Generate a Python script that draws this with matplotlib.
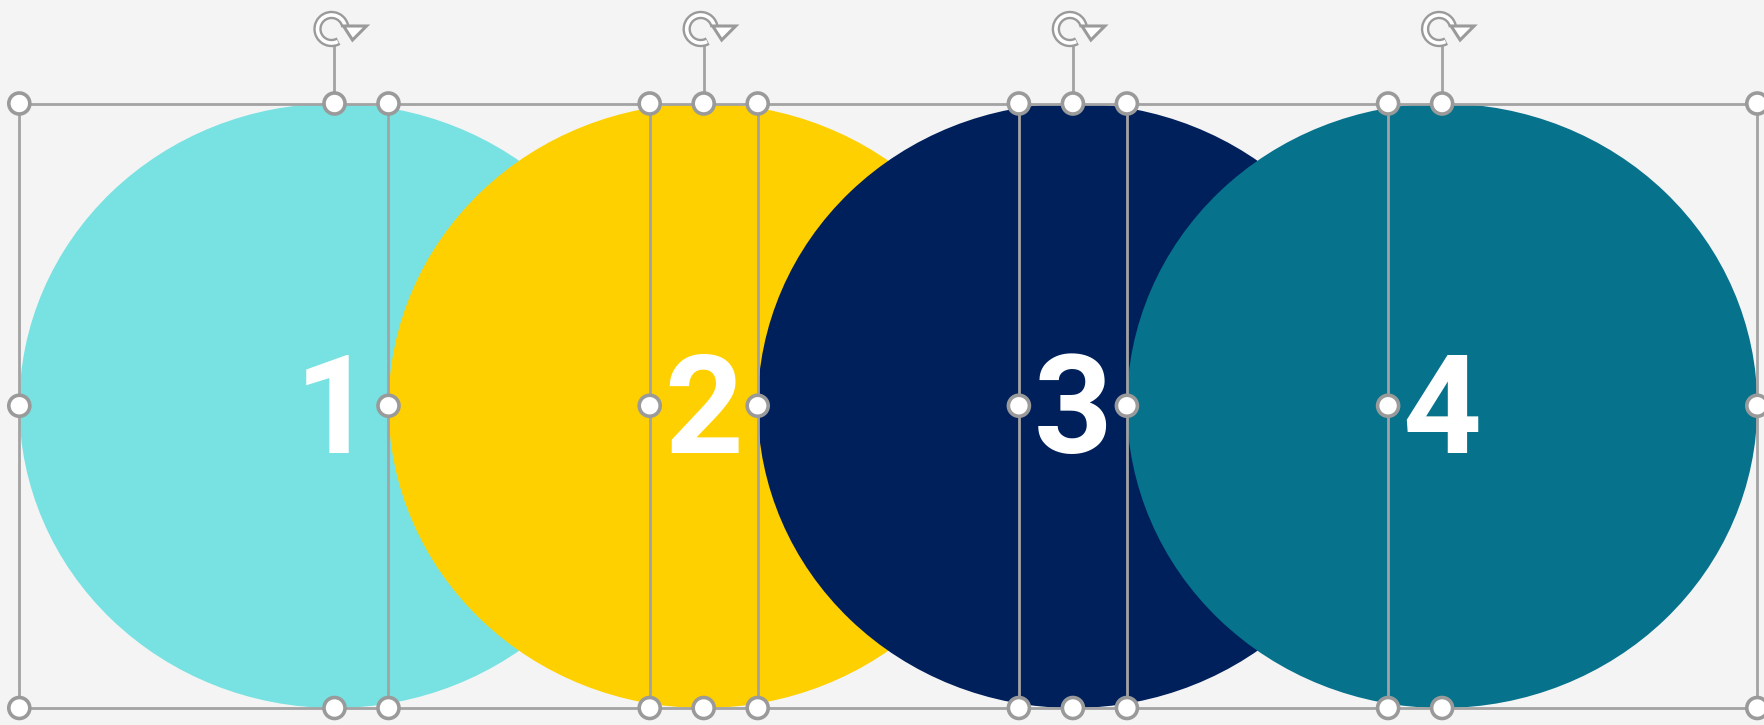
import matplotlib.pyplot as plt
from matplotlib.patches import Ellipse, Circle, Arc, Polygon

# shape data
labels = ["1", "2", "3", "4"]
colors = ["#78E1E1", "#FFD000", "#00205C", "#06728C"]

# layout (pixels)
first_cx = 334.5
step = 369.2
shape_w = 630.4
shape_h = 604.5
top_y = 103.5
handle_r = 10.5
rot_y = 29
line_col = "#A3A3A3"
icon_col = "#9A9A9A"

W, H = 1765, 725
fig = plt.figure(figsize=(W / 100, H / 100), dpi=100)
fig.patch.set_facecolor("#F4F4F4")
ax = fig.add_axes([0, 0, 1, 1])
ax.set_xlim(0, W)
ax.set_ylim(H, 0)
ax.axis("off")

bot_y = top_y + shape_h
mid_y = top_y + shape_h / 2
centers = [first_cx + i * step for i in range(len(labels))]

# circles and numbers
for i, (lab, col) in enumerate(zip(labels, colors)):
    cx = centers[i]
    ax.add_patch(Ellipse((cx, mid_y), shape_w, shape_h, facecolor=col,
                         edgecolor="none", zorder=1 + i))
    ax.text(cx, mid_y + 47, lab, ha="center", va="baseline", color="white",
            fontsize=99, fontweight="bold", family="Roboto", zorder=1 + i)

# selection frame
left0 = centers[0] - shape_w / 2
right_n = centers[-1] + shape_w / 2
for y in (top_y, bot_y):
    ax.plot([left0, right_n], [y, y], color=line_col, lw=2, zorder=10)


def handle(x, y):
    ax.add_patch(Circle((x, y), handle_r, facecolor="white", edgecolor=icon_col,
                        lw=2.6, zorder=12))


for cx in centers:
    left, right = cx - shape_w / 2, cx + shape_w / 2
    for x in (left, right):
        ax.plot([x, x], [top_y, bot_y], color=line_col, lw=2, zorder=10)
    # rotation stem and icon
    ax.plot([cx, cx], [top_y, rot_y + 17], color=line_col, lw=2, zorder=10)
    ax.add_patch(Arc((cx - 3, rot_y), 28, 28, theta1=60, theta2=350,
                     color=icon_col, lw=6, zorder=11))
    ax.add_patch(Arc((cx - 3, rot_y), 28, 28, theta1=63, theta2=347,
                     color="white", lw=2.6, zorder=11))
    ax.add_patch(Polygon([[cx + 9, rot_y - 3], [cx + 32, rot_y - 3],
                          [cx + 18, rot_y + 11]], closed=True,
                         facecolor="white", edgecolor=icon_col, lw=2.2,
                         joinstyle="miter", zorder=11))
    for x in (left, cx, right):
        handle(x, top_y)
        handle(x, bot_y)
    for x in (left, right):
        handle(x, mid_y)

fig.savefig("out.png", dpi=100, facecolor=fig.get_facecolor())
